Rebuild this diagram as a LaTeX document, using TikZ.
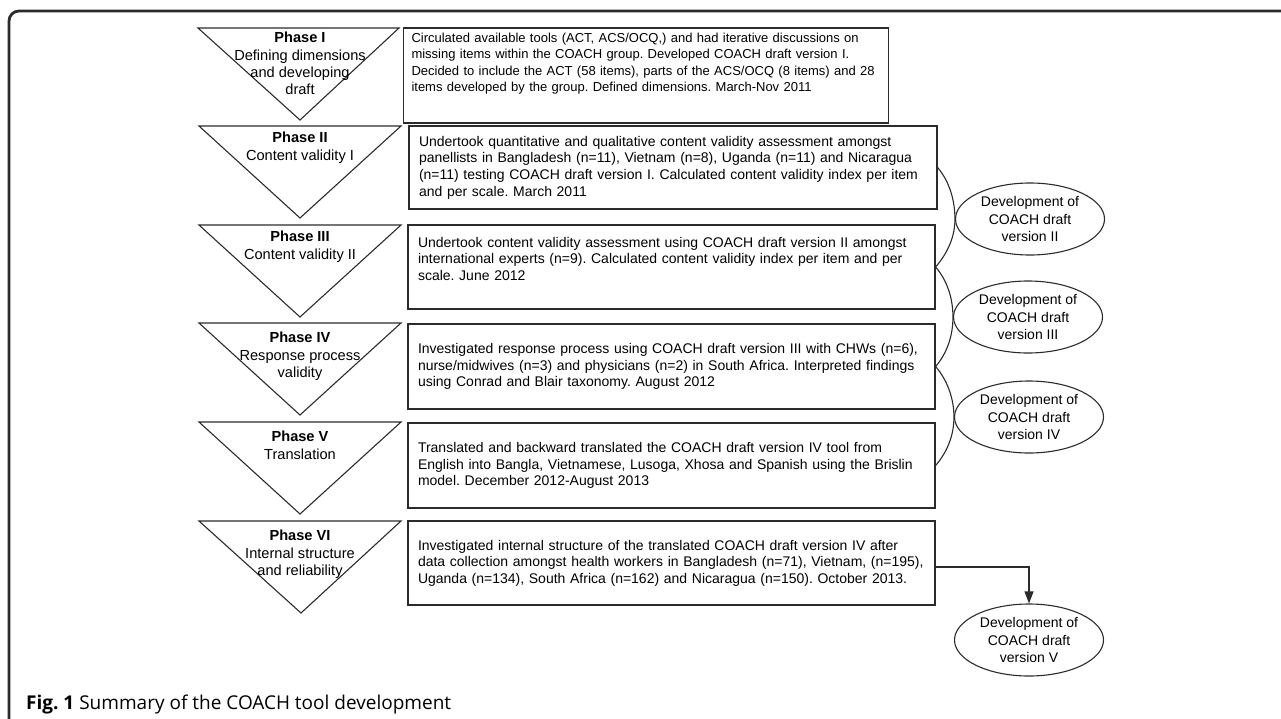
\documentclass[tikz,border=0pt]{standalone}
\usepackage{fontspec}
\setmainfont{Liberation Sans}
\newfontfamily\capfont{Open Sans}
\usetikzlibrary{shapes.geometric,arrows.meta}
\definecolor{linegray}{HTML}{2B2B2B}
\begin{document}
\frenchspacing
\begin{tikzpicture}[x=1pt,y=-1pt,
    phasebox/.style={draw=linegray, line width=1.2pt, align=left, inner xsep=10pt, inner ysep=0pt, font=\fontsize{14}{16.6}\selectfont},
    phasetxt/.style={anchor=north, inner sep=0pt, align=center, font=\fontsize{14.6}{17.3}\selectfont},
    devell/.style={draw=linegray, ellipse, line width=1.1pt, minimum width=149pt, minimum height=72pt, inner sep=0pt, align=center, font=\fontsize{14}{17.5}\selectfont},
    tri/.style={draw=linegray, line width=1.1pt}]
    \useasboundingbox (0,0) rectangle (1281,718);
    \draw [draw=linegray, line width=2.8pt, rounded corners=10pt] (9,760) -- (9,11) -- (1320,11);
    \draw [tri] (198,28) -- (399,28) -- (300,120) -- cycle;
    \node [phasetxt] (ph1) at (300,32) {\textbf{Phase I}\\Defining dimensions\\and developing\\draft};
    \draw [tri] (199,126) -- (401,126) -- (300,218) -- cycle;
    \node [phasetxt] (ph2) at (300,132) {\textbf{Phase II}\\Content validity I};
    \draw [tri] (199,225) -- (401,225) -- (300,317) -- cycle;
    \node [phasetxt] (ph3) at (300,231) {\textbf{Phase III}\\Content validity II};
    \draw [tri] (199,323) -- (401,323) -- (300,415) -- cycle;
    \node [phasetxt] (ph4) at (300,332) {\textbf{Phase IV}\\Response process\\validity};
    \draw [tri] (199,422) -- (401,422) -- (300,514) -- cycle;
    \node [phasetxt] (ph5) at (300,431) {\textbf{Phase V}\\Translation};
    \draw [tri] (199,521) -- (401,521) -- (301,613) -- cycle;
    \node [phasetxt] (ph6) at (300,530) {\textbf{Phase VI}\\Internal structure\\and reliability};
    \node [phasebox, inner xsep=8pt, text width=469pt, minimum height=95pt, font=\fontsize{13}{16.6}\selectfont] (box1) at (646,75.5) {Circulated available tools (ACT, ACS/OCQ,) and had iterative discussions on\\missing items within the COACH group. Developed COACH draft version I.\\Decided to include the ACT (58 items), parts of the ACS/OCQ (8 items) and 28\\items developed by the group. Defined dimensions. March-Nov 2011\\[10pt]\mbox{}};
    \node [phasebox, text width=508pt, minimum height=83pt] (box2) at (673,167.5) {Undertook quantitative and qualitative content validity assessment amongst\\panellists in Bangladesh (n=11), Vietnam (n=8), Uganda (n=11) and Nicaragua\\(n=11) testing COACH draft version I. Calculated content validity index per item\\and per scale. March 2011};
    \node [phasebox, text width=507pt, minimum height=84pt] (box3) at (671.5,267) {Undertook content validity assessment using COACH draft version II amongst\\international experts (n=9). Calculated content validity index per item and per\\scale. June 2012\\\mbox{}};
    \node [phasebox, text width=507pt, minimum height=85pt] (box4) at (671.5,366.5) {Investigated response process using COACH draft version III with CHWs (n=6),\\nurse/midwives (n=3) and physicians (n=2) in South Africa. Interpreted findings\\using Conrad and Blair taxonomy. August 2012};
    \node [phasebox, text width=507pt, minimum height=85pt] (box5) at (671.5,465.5) {Translated and backward translated the COACH draft version IV tool from\\English into Bangla, Vietnamese, Lusoga, Xhosa and Spanish using the Brislin\\model. December 2012-August 2013};
    \node [phasebox, text width=507pt, minimum height=84pt] (box6) at (671.5,563) {Investigated internal structure of the translated COACH draft version IV after\\data collection amongst health workers in Bangladesh (n=71), Vietnam, (n=195),\\Uganda (n=134), South Africa (n=162) and Nicaragua (n=150). October 2013.};
    \node [devell] (ell2) at (1030,219) {Development of\\COACH draft\\version II};
    \node [devell] (ell3) at (1028,317) {Development of\\COACH draft\\version III};
    \node [devell] (ell4) at (1029,417) {Development of\\COACH draft\\version IV};
    \node [devell] (ell5) at (1029,640) {Development of\\COACH draft\\version V};
    \draw [draw=linegray, line width=1.1pt] (box2.east) .. controls +(12,14) and +(0,-18) .. (ell2.west) .. controls +(0,18) and +(12,-14) .. (box3.east);
    \draw [draw=linegray, line width=1.1pt] (box3.east) .. controls +(12,14) and +(0,-18) .. (ell3.west) .. controls +(0,18) and +(12,-14) .. (box4.east);
    \draw [draw=linegray, line width=1.1pt] (box4.east) .. controls +(12,14) and +(0,-18) .. (ell4.west) .. controls +(0,18) and +(12,-14) .. (box5.east);
    \draw [draw=linegray, line width=1.1pt, -{Triangle[length=12pt,width=9pt]}] ([yshift=-4pt]box6.east) -| (ell5.north);
    \node [anchor=base west, inner sep=0pt] (cap) at (26,709) {\capfont\fontsize{19}{22}\selectfont\textbf{Fig. 1} Summary of the COACH tool development};
\end{tikzpicture}
\end{document}
